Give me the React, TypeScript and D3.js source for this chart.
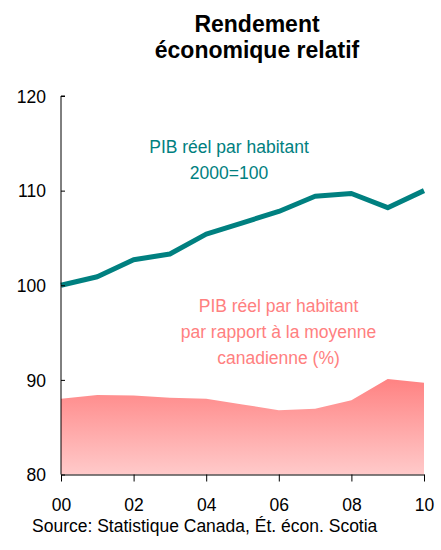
import React, { useEffect, useRef } from 'react';
import * as d3 from 'd3';

// data
const years = [0, 1, 2, 3, 4, 5, 6, 7, 8, 9, 10];
const gdpIndex = [100.0, 100.9, 102.7, 103.3, 105.4, 106.6, 107.8, 109.4, 109.7, 108.2, 110.0];
const gdpRelative = [88.0, 88.4, 88.35, 88.1, 88.0, 87.4, 86.8, 86.95, 87.85, 90.1, 89.7];
const yTicks = [80, 90, 100, 110, 120];
const xTicks = [0, 2, 4, 6, 8, 10];
const titleLines = ['Rendement', 'économique relatif'];
const tealLabel = ['PIB réel par habitant', '2000=100'];
const pinkLabel = ['PIB réel par habitant', 'par rapport à la moyenne', 'canadienne (%)'];
const source = 'Source: Statistique Canada, Ét. écon. Scotia';

export default function App() {
  const ref = useRef<SVGSVGElement>(null);

  useEffect(() => {
    const width = 441;
    const height = 550;
    const margin = { top: 96, right: 17, bottom: 75.5, left: 61 };
    const font = '"Liberation Sans", Arial, sans-serif';

    const svg = d3.select(ref.current).attr('viewBox', [0, 0, width, height]);
    svg.selectAll('*').remove();

    const x = d3.scaleLinear([0, 10], [margin.left, width - margin.right]);
    const y = d3.scaleLinear([80, 120], [height - margin.bottom, margin.top]);

    // gradient for the area
    const grad = svg
      .append('defs')
      .append('linearGradient')
      .attr('id', 'pinkGrad')
      .attr('x1', 0)
      .attr('y1', 0)
      .attr('x2', 0)
      .attr('y2', 1);
    grad.append('stop').attr('offset', '0%').attr('stop-color', '#ff8282');
    grad.append('stop').attr('offset', '100%').attr('stop-color', '#ffcaca');

    // title
    svg
      .append('text')
      .attr('x', 257)
      .attr('font-family', font)
      .attr('font-weight', 'bold')
      .attr('font-size', 23)
      .attr('text-anchor', 'middle')
      .selectAll('tspan')
      .data(titleLines)
      .join('tspan')
      .attr('x', 257)
      .attr('y', (d, i) => 32 + i * 26)
      .text((d) => d);

    // area
    const area = d3
      .area<number>()
      .x((d, i) => x(years[i]))
      .y0(y(80))
      .y1((d) => y(d));
    svg.append('path').datum(gdpRelative).attr('d', area).attr('fill', 'url(#pinkGrad)');

    // line
    const line = d3
      .line<number>()
      .x((d, i) => x(years[i]))
      .y((d) => y(d));
    svg
      .append('path')
      .datum(gdpIndex)
      .attr('d', line)
      .attr('fill', 'none')
      .attr('stroke', '#008080')
      .attr('stroke-width', 5)
      .attr('stroke-linejoin', 'round');

    // y axis
    const yAxis = svg
      .append('g')
      .attr('transform', `translate(${margin.left},0)`)
      .call(d3.axisRight(y).tickValues(yTicks).tickSize(4).tickFormat(d3.format('d')));
    yAxis.select('.domain').attr('stroke', '#000').attr('d', `M4,${y(120)}H0V${y(80)}`);
    yAxis.selectAll('.tick line').attr('stroke', '#000');
    yAxis
      .selectAll('.tick text')
      .attr('x', -15)
      .attr('text-anchor', 'end')
      .attr('font-family', font)
      .attr('font-size', 17.5)
      .attr('fill', '#000')
      .attr('dy', '0.36em');

    // x axis
    const xAxis = svg
      .append('g')
      .attr('transform', `translate(0,${y(80)})`)
      .call(
        d3
          .axisBottom(x)
          .tickValues(xTicks)
          .tickSize(7)
          .tickSizeOuter(0)
          .tickFormat((d) => d3.format('02d')(d as number))
      );
    xAxis.select('.domain').attr('stroke', '#000');
    xAxis.selectAll('.tick line').attr('stroke', '#000');
    xAxis
      .selectAll('.tick text')
      .attr('y', 36.5)
      .attr('dy', 0)
      .attr('font-family', font)
      .attr('font-size', 17.5)
      .attr('fill', '#000');

    // series labels
    svg
      .append('text')
      .attr('font-family', font)
      .attr('font-size', 17.5)
      .attr('fill', '#008080')
      .attr('text-anchor', 'middle')
      .selectAll('tspan')
      .data(tealLabel)
      .join('tspan')
      .attr('x', 229)
      .attr('y', (d, i) => 152.5 + i * 26)
      .text((d) => d);

    svg
      .append('text')
      .attr('font-family', font)
      .attr('font-size', 17.5)
      .attr('fill', '#ff8080')
      .attr('text-anchor', 'middle')
      .selectAll('tspan')
      .data(pinkLabel)
      .join('tspan')
      .attr('x', 278.5)
      .attr('y', (d, i) => 311.5 + i * 26)
      .text((d) => d);

    // source
    svg
      .append('text')
      .attr('x', 32)
      .attr('y', 531.5)
      .attr('font-family', font)
      .attr('font-size', 17.5)
      .attr('fill', '#000')
      .text(source);
  }, []);

  return (
    <svg
      ref={ref}
      width={441}
      height={550}
      style={{ position: 'absolute', left: 0, top: 0, display: 'block', background: '#fff' }}
    />
  );
}
